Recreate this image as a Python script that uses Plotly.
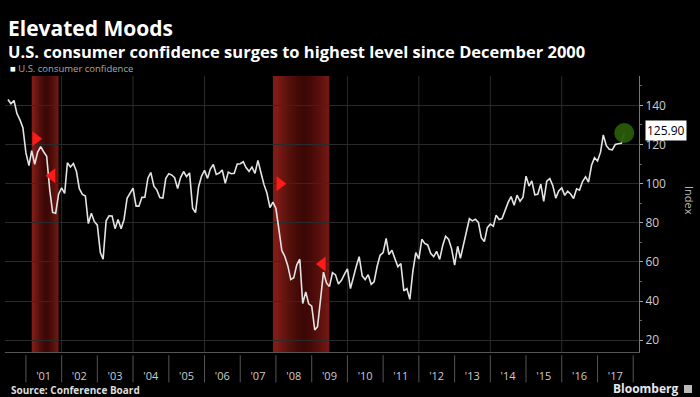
import pandas as pd
import plotly.graph_objects as go

# ---------------- data ----------------
start_month = "2000-07-01"
values_2000 = [143.0, 140.8, 142.5, 135.8, 132.6, 128.6]
values_2001 = [115.7, 109.2, 116.9, 109.9, 116.1, 118.9, 116.3, 114.0, 97.0, 85.3, 84.9, 94.6]
values_2002 = [97.8, 95.0, 110.7, 108.5, 110.3, 106.3, 97.4, 94.5, 93.7, 79.6, 84.9, 80.7]
values_2003 = [78.8, 64.8, 61.4, 81.0, 83.6, 83.5, 77.0, 81.7, 77.0, 81.7, 92.5, 94.8]
values_2004 = [97.7, 88.5, 88.5, 93.0, 93.1, 102.8, 105.7, 98.7, 96.7, 92.9, 92.6, 102.7]
values_2005 = [105.1, 104.4, 103.0, 97.5, 103.1, 106.2, 103.6, 105.5, 87.5, 85.2, 98.3, 103.8]
values_2006 = [106.8, 102.7, 107.5, 109.8, 104.7, 105.4, 107.0, 100.2, 105.9, 105.1, 105.3, 110.0]
values_2007 = [110.2, 111.2, 108.2, 106.3, 108.5, 105.3, 111.9, 105.6, 99.5, 95.2, 87.8, 90.6]
values_2008 = [87.3, 76.4, 65.9, 62.8, 58.1, 51.0, 51.9, 58.5, 61.4, 38.8, 44.7, 38.6]
values_2009 = [37.4, 25.3, 26.9, 40.8, 54.8, 49.3, 47.4, 54.5, 53.4, 48.7, 50.6, 53.6]
values_2010 = [56.5, 46.4, 52.3, 57.7, 62.7, 52.9, 51.0, 53.5, 48.6, 49.9, 57.8, 63.4]
values_2011 = [64.8, 72.0, 63.8, 66.0, 61.7, 57.6, 59.2, 45.2, 46.4, 40.9, 55.2, 64.8]
values_2012 = [61.5, 71.6, 69.5, 68.7, 64.4, 62.7, 65.4, 61.3, 68.4, 73.1, 71.5, 66.7]
values_2013 = [58.4, 68.0, 61.9, 69.0, 76.2, 82.1, 81.0, 81.8, 80.2, 72.4, 70.4, 77.5]
values_2014 = [79.4, 78.3, 83.9, 81.7, 82.2, 86.4, 90.3, 93.4, 89.0, 94.1, 91.0, 93.1]
values_2015 = [103.8, 98.8, 101.4, 94.3, 94.6, 99.8, 91.0, 101.3, 102.6, 99.1, 92.6, 96.3]
values_2016 = [97.8, 94.0, 96.1, 94.7, 92.4, 97.4, 96.7, 101.1, 103.5, 100.8, 109.4, 113.3]
values_2017 = [111.6, 116.1, 124.9, 119.4, 117.6, 117.3, 120.0, 120.4, 120.6, 125.9]

confidence = (values_2000 + values_2001 + values_2002 + values_2003 + values_2004 +
              values_2005 + values_2006 + values_2007 + values_2008 + values_2009 +
              values_2010 + values_2011 + values_2012 + values_2013 + values_2014 +
              values_2015 + values_2016 + values_2017)
months = pd.date_range(start_month, periods=len(confidence), freq="MS")

recession_starts = ["2001-03-01", "2007-12-01"]
recession_ends = ["2001-11-30", "2009-06-30"]

event_dates = ["2001-04-10", "2001-09-25", "2008-02-10", "2009-04-20"]
event_values = [123, 104, 100, 59]
event_symbols = ["triangle-right", "triangle-left", "triangle-right", "triangle-left"]

years = list(range(2001, 2018))
tick_dates = [f"{y}-07-01" for y in years]
tick_labels = ["'" + str(y)[2:] for y in years]
separator_years = list(range(2001, 2019))
grid_years = list(range(2002, 2017, 2))

last_label = "125.90"

# ---------------- figure ----------------
FONT = "Open Sans"
L, R, T, B = 5, 61, 76, 45
W, H = 700, 397
PW, PH = W - L - R, H - T - B


def px_x(x):
    return (x - L) / PW


def px_y(y):
    return (H - B - y) / PH


fig = go.Figure()

shapes = []
for y in grid_years:
    shapes.append(dict(type="line", xref="x", yref="paper", x0=f"{y}-01-01", x1=f"{y}-01-01",
                       y0=0, y1=1, line=dict(color="#2b2b2b", width=1), layer="below"))

# recession bands: bright red-brown base, nested dark overlays toward the centre
n_layers = 10
for s, e in zip(recession_starts, recession_ends):
    t0 = pd.Timestamp(s)
    t1 = pd.Timestamp(e)
    span = t1 - t0
    shapes.append(dict(type="rect", xref="x", yref="paper", x0=t0, x1=t1, y0=0, y1=1,
                       fillcolor="rgb(128,28,22)", line=dict(width=0), layer="below"))
    mid = t0 + span * 0.55
    for k in range(1, n_layers + 1):
        half = span * (0.5 * (1 - k / (n_layers + 1)))
        shapes.append(dict(type="rect", xref="x", yref="paper", x0=mid - half, x1=mid + half,
                           y0=0, y1=1, fillcolor="rgba(20,0,0,0.09)",
                           line=dict(width=0), layer="below"))

for y in separator_years:
    shapes.append(dict(type="line", xref="x", yref="paper", x0=f"{y}-01-01", x1=f"{y}-01-01",
                       y0=-0.012, y1=-0.11, line=dict(color="#555555", width=1)))

shapes.append(dict(type="rect", xref="paper", yref="paper",
                   x0=px_x(684), x1=px_x(692), y0=px_y(393), y1=px_y(385),
                   fillcolor="#bbbbbb", line=dict(width=0)))

fig.add_trace(go.Scatter(x=months, y=confidence, mode="lines",
                         line=dict(color="#e4e4e4", width=1.6), showlegend=False,
                         hoverinfo="x+y"))

fig.add_trace(go.Scatter(x=[months[-1]], y=[confidence[-1]], mode="markers",
                         marker=dict(size=20, color="rgba(40,92,10,0.95)"),
                         showlegend=False))

fig.add_trace(go.Scatter(x=pd.to_datetime(event_dates), y=event_values, mode="markers",
                         marker=dict(size=13, color="#ff1a1a", symbol=event_symbols,
                                     line=dict(width=0)),
                         showlegend=False))

annotations = [
    dict(text="Elevated Moods",
         xref="paper", yref="paper", x=px_x(6), y=px_y(28),
         xanchor="left", yanchor="middle", showarrow=False,
         font=dict(family=FONT, size=21, color="white", weight="bold")),
    dict(text="U.S. consumer confidence surges to highest level since December 2000",
         xref="paper", yref="paper", x=px_x(6), y=px_y(51),
         xanchor="left", yanchor="middle", showarrow=False,
         font=dict(family=FONT, size=16.5, color="white", weight="bold")),
    dict(text="<span style='color:#ffffff'>■</span> U.S. consumer confidence",
         xref="paper", yref="paper", x=px_x(8), y=px_y(68),
         xanchor="left", yanchor="middle", showarrow=False,
         font=dict(family=FONT, size=9.5, color="#a8a8a8")),
    dict(text="Source: Conference Board",
         xref="paper", yref="paper", x=px_x(9), y=px_y(390),
         xanchor="left", yanchor="middle", showarrow=False,
         font=dict(family=FONT, size=10, color="#dddddd", weight="bold")),
    dict(text="Bloomberg",
         xref="paper", yref="paper", x=px_x(681), y=px_y(388),
         xanchor="right", yanchor="middle", showarrow=False,
         font=dict(family=FONT, size=12, color="#e8e8e8", weight="bold")),
    dict(text="Index",
         xref="paper", yref="paper", x=px_x(690), y=px_y(200),
         xanchor="center", yanchor="middle", showarrow=False, textangle=90,
         font=dict(family=FONT, size=11, color="#bbbbbb")),
    dict(text=last_label,
         xref="paper", yref="y", x=1, y=confidence[-1], xshift=6, yshift=2,
         xanchor="left", yanchor="middle", showarrow=False,
         bgcolor="white", borderpad=1,
         font=dict(family=FONT, size=12, color="black")),
]

fig.update_layout(
    width=W, height=H,
    paper_bgcolor="black", plot_bgcolor="black",
    margin=dict(l=L, r=R, t=T, b=B),
    shapes=shapes,
    annotations=annotations,
    showlegend=False,
    xaxis=dict(type="date", range=["2000-06-01", "2018-03-01"],
               showgrid=False, zeroline=False,
               tickmode="array", tickvals=tick_dates, ticktext=tick_labels,
               ticks="", ticklabelstandoff=14,
               tickfont=dict(family=FONT, size=11, color="#cccccc"),
               showline=True, linecolor="#555555", linewidth=1),
    yaxis=dict(side="right", range=[14, 155], tick0=20, dtick=20,
               showgrid=True, gridcolor="#2b2b2b", gridwidth=1, zeroline=False,
               showline=True, linecolor="#777777", linewidth=1,
               ticks="outside", ticklen=3, tickcolor="#aaaaaa",
               minor=dict(dtick=10, ticks="outside", ticklen=2, tickcolor="#666666"),
               tickfont=dict(family=FONT, size=12, color="#cccccc")),
)

fig.write_html("out.html", config={"displayModeBar": False},
               post_script="document.body.style.margin='0';document.body.style.background='black';")
